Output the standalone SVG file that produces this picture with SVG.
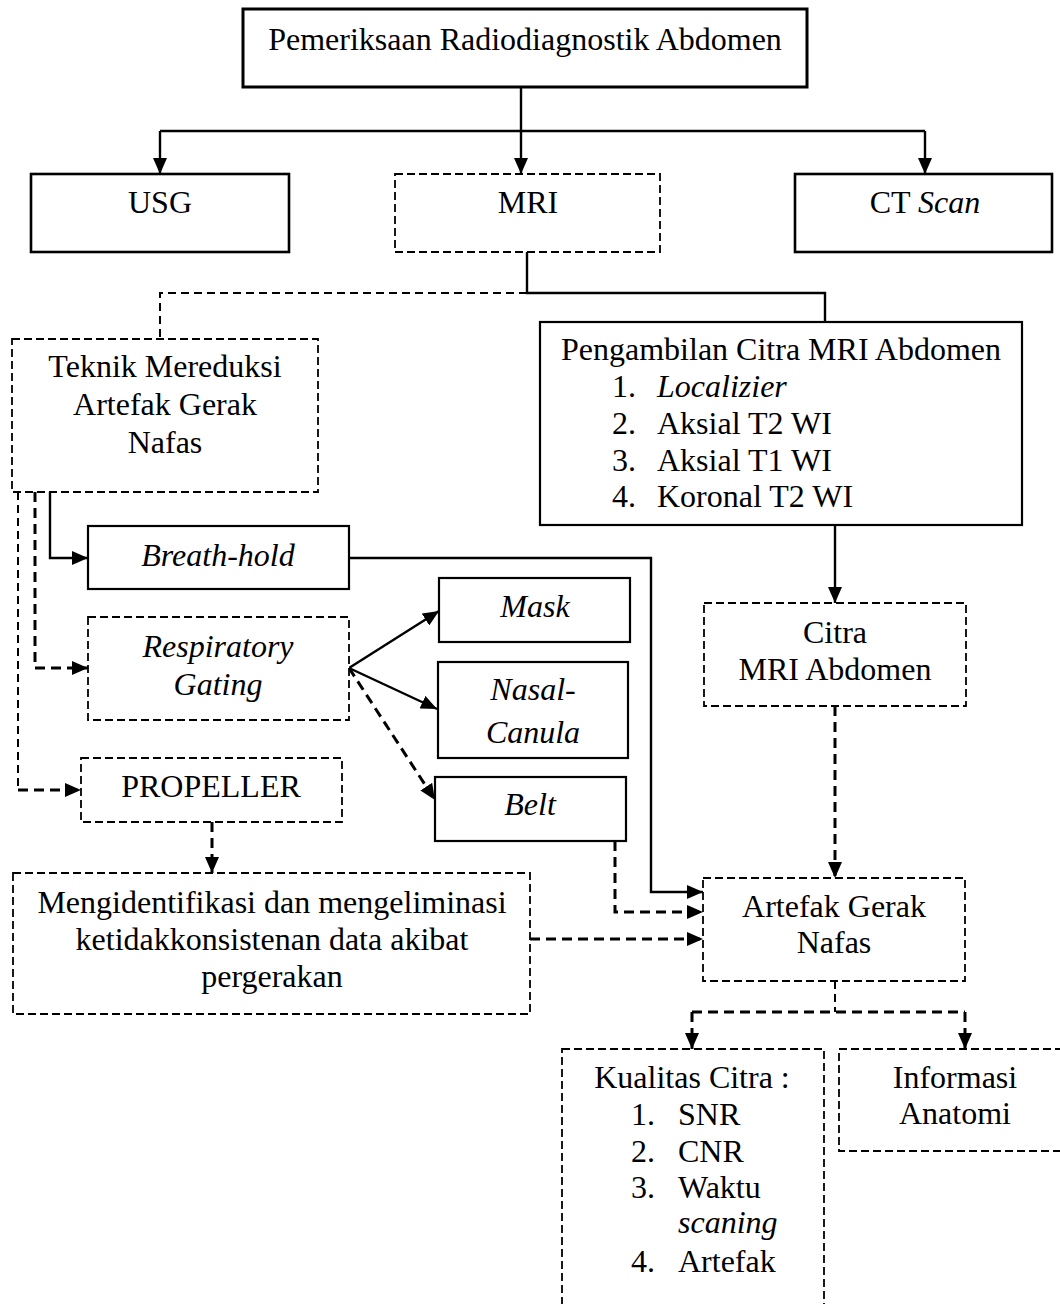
<svg xmlns="http://www.w3.org/2000/svg" width="1060" height="1304" viewBox="0 0 1060 1304">
<style>
  text { font-family: "Liberation Serif", "Times New Roman", serif; font-size: 32px; fill: #000; }
  .c { text-anchor: middle; }
  .i { font-style: italic; }
  .box { fill: #fff; stroke: #000; stroke-width: 2.2; }
  .dbox { fill: #fff; stroke: #000; stroke-width: 1.8; stroke-dasharray: 8 4; }
  .ln { fill: none; stroke: #000; stroke-width: 2.4; }
  .dl { fill: none; stroke: #000; stroke-width: 2; stroke-dasharray: 8 5; }
  .tdl { fill: none; stroke: #000; stroke-width: 3; stroke-dasharray: 10 6; }
</style>
<defs>
  <marker id="ah" markerUnits="userSpaceOnUse" markerWidth="16" markerHeight="14" refX="16" refY="7" orient="auto">
    <path d="M0,0 L16,7 L0,14 z" fill="#000"/>
  </marker>
</defs>
<rect width="1060" height="1304" fill="#fff"/>

<g id="connectors">
  <path class="ln" d="M521,87 V174" marker-end="url(#ah)"/>
  <path class="ln" d="M160,131 H925"/>
  <path class="ln" d="M160,131 V174" marker-end="url(#ah)"/>
  <path class="ln" d="M925,131 V174" marker-end="url(#ah)"/>
  <path class="ln" d="M527,252 V293 H825 V322"/>
  <path class="dl" d="M527,293 H160 V339"/>
  <path class="ln" d="M50,492 V558 H88" marker-end="url(#ah)"/>
  <path class="tdl" d="M35,492 V668 H88" marker-end="url(#ah)"/>
  <path class="dl" d="M18,492 V790"/>
  <path class="tdl" d="M18,790 H81" marker-end="url(#ah)"/>
  <path class="ln" d="M349,558 H651 V892 H703" marker-end="url(#ah)"/>
  <path class="ln" d="M349,668 L439,611" marker-end="url(#ah)"/>
  <path class="ln" d="M349,668 L437,709" marker-end="url(#ah)"/>
  <path class="tdl" d="M349,668 L435,800" marker-end="url(#ah)"/>
  <path class="tdl" d="M615,841 V912 H703" marker-end="url(#ah)"/>
  <path class="tdl" d="M212,822 V873" marker-end="url(#ah)"/>
  <path class="tdl" d="M530,939 H703" marker-end="url(#ah)"/>
  <path class="ln" d="M835,525 V603" marker-end="url(#ah)"/>
  <path class="tdl" d="M835,706 V878" marker-end="url(#ah)"/>
  <path class="dl" d="M835,981 V1012"/>
  <path class="tdl" d="M692,1012 H965"/>
  <path class="tdl" d="M692,1012 V1049" marker-end="url(#ah)"/>
  <path class="tdl" d="M965,1012 V1049" marker-end="url(#ah)"/>
</g>

<g id="node-top">
  <rect class="box" x="243" y="9" width="564" height="78" style="stroke-width:3"/>
  <text class="c" x="525" y="50">Pemeriksaan Radiodiagnostik Abdomen</text>
</g>
<g id="node-usg">
  <rect class="box" x="31" y="174" width="258" height="78" style="stroke-width:2.6"/>
  <text class="c" x="160" y="213">USG</text>
</g>
<g id="node-mri">
  <rect class="dbox" x="395" y="174" width="265" height="78"/>
  <text class="c" x="528" y="213">MRI</text>
</g>
<g id="node-ct">
  <rect class="box" x="795" y="174" width="257" height="78" style="stroke-width:2.6"/>
  <text class="c" x="925" y="213">CT <tspan class="i">Scan</tspan></text>
</g>
<g id="node-teknik">
  <rect class="dbox" x="12" y="339" width="306" height="153"/>
  <text class="c" x="165" y="377">Teknik Mereduksi</text>
  <text class="c" x="165" y="415">Artefak Gerak</text>
  <text class="c" x="165" y="453">Nafas</text>
</g>
<g id="node-pengambilan">
  <rect class="box" x="540" y="322" width="482" height="203"/>
  <text class="c" x="781" y="360">Pengambilan Citra MRI Abdomen</text>
  <text x="612" y="397">1.</text><text class="i" x="657" y="397">Localizier</text>
  <text x="612" y="434">2.</text><text x="657" y="434">Aksial T2 WI</text>
  <text x="612" y="471">3.</text><text x="657" y="471">Aksial T1 WI</text>
  <text x="612" y="507">4.</text><text x="657" y="507">Koronal T2 WI</text>
</g>
<g id="node-breath">
  <rect class="box" x="88" y="526" width="261" height="63"/>
  <text class="c i" x="218" y="566">Breath-hold</text>
</g>
<g id="node-resp">
  <rect class="dbox" x="88" y="617" width="261" height="103"/>
  <text class="c i" x="218" y="657">Respiratory</text>
  <text class="c i" x="218" y="695">Gating</text>
</g>
<g id="node-propeller">
  <rect class="dbox" x="81" y="758" width="261" height="64"/>
  <text class="c" x="211" y="797">PROPELLER</text>
</g>
<g id="node-mask">
  <rect class="box" x="439" y="578" width="191" height="64"/>
  <text class="c i" x="535" y="617">Mask</text>
</g>
<g id="node-nasal">
  <rect class="box" x="438" y="662" width="190" height="96"/>
  <text class="c i" x="533" y="700">Nasal-</text>
  <text class="c i" x="533" y="743">Canula</text>
</g>
<g id="node-belt">
  <rect class="box" x="435" y="777" width="191" height="64"/>
  <text class="c i" x="530" y="815">Belt</text>
</g>
<g id="node-citra">
  <rect class="dbox" x="704" y="603" width="262" height="103"/>
  <text class="c" x="835" y="643">Citra</text>
  <text class="c" x="835" y="680">MRI Abdomen</text>
</g>
<g id="node-mengidentifikasi">
  <rect class="dbox" x="13" y="873" width="517" height="141"/>
  <text class="c" x="272" y="913">Mengidentifikasi dan mengeliminasi</text>
  <text class="c" x="272" y="950">ketidakkonsistenan data akibat</text>
  <text class="c" x="272" y="987">pergerakan</text>
</g>
<g id="node-artefak">
  <rect class="dbox" x="703" y="878" width="262" height="103"/>
  <text class="c" x="834" y="917">Artefak Gerak</text>
  <text class="c" x="834" y="953">Nafas</text>
</g>
<g id="node-kualitas">
  <rect class="dbox" x="562" y="1049" width="262" height="280"/>
  <text class="c" x="692" y="1088">Kualitas Citra :</text>
  <text x="631" y="1125">1.</text><text x="678" y="1125">SNR</text>
  <text x="631" y="1162">2.</text><text x="678" y="1162">CNR</text>
  <text x="631" y="1198">3.</text><text x="678" y="1198">Waktu</text>
  <text class="i" x="678" y="1233">scaning</text>
  <text x="631" y="1272">4.</text><text x="678" y="1272">Artefak</text>
</g>
<g id="node-informasi">
  <rect class="dbox" x="839" y="1049" width="240" height="102"/>
  <text class="c" x="955" y="1088">Informasi</text>
  <text class="c" x="955" y="1124">Anatomi</text>
</g>
</svg>
